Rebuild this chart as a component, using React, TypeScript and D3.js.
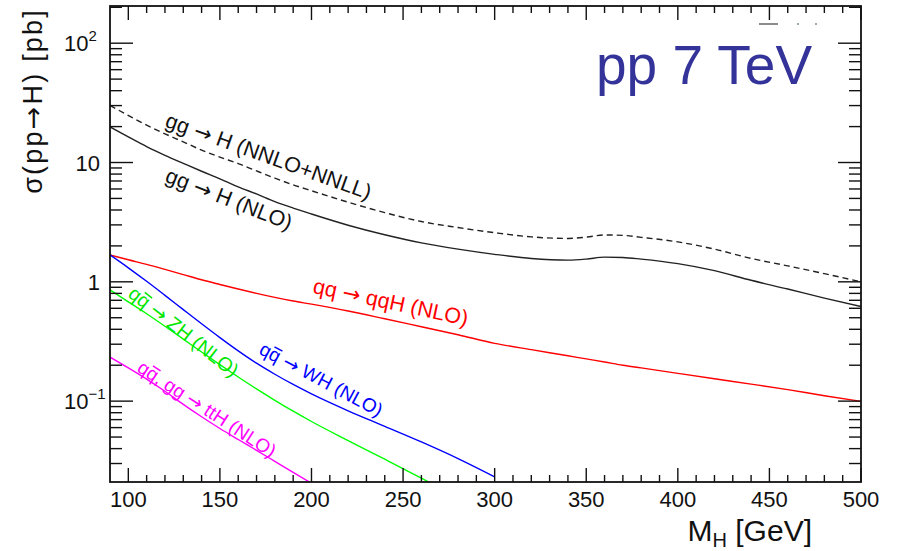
import React, { useEffect, useRef } from "react";
import * as d3 from "d3";

// Higgs mass points (GeV) and cross sections (pb)
const massFull = [90, 100, 110, 120, 130, 140, 150, 160, 170, 180, 190, 200, 220, 240, 260, 280, 300, 320, 340, 350, 360, 370, 380, 400, 420, 440, 460, 480, 500];
const ggNNLO = [30.1, 24.8, 20.6, 17.4, 14.9, 12.7, 11.1, 9.8, 8.5, 7.4, 6.5, 5.8, 4.65, 3.8, 3.2, 2.85, 2.58, 2.38, 2.31, 2.37, 2.47, 2.45, 2.36, 2.16, 1.88, 1.57, 1.36, 1.17, 1.0];
const ggNLO = [19.85, 16.4, 13.6, 11.5, 9.85, 8.45, 7.3, 6.25, 5.45, 4.7, 4.15, 3.7, 2.98, 2.48, 2.12, 1.88, 1.7, 1.57, 1.52, 1.55, 1.61, 1.6, 1.55, 1.42, 1.24, 1.03, 0.87, 0.73, 0.62];
const vbf = [1.68, 1.53, 1.4, 1.27, 1.15, 1.04, 0.95, 0.87, 0.8, 0.74, 0.69, 0.65, 0.57, 0.49, 0.42, 0.36, 0.305, 0.27, 0.24, 0.226, 0.213, 0.2, 0.19, 0.171, 0.154, 0.139, 0.125, 0.111, 0.0996];

const massWH = [90, 100, 110, 120, 130, 140, 150, 160, 170, 180, 190, 200, 220, 240, 260, 280, 300];
const wh = [1.68, 1.31, 1.01, 0.77, 0.585, 0.445, 0.341, 0.264, 0.208, 0.168, 0.138, 0.115, 0.083, 0.0615, 0.0455, 0.033, 0.0232];

const massZH = [90, 100, 110, 120, 130, 140, 150, 160, 170, 180, 190, 200, 220, 240, 260, 270];
const zh = [0.856, 0.68, 0.54, 0.424, 0.331, 0.258, 0.202, 0.1594, 0.1266, 0.1015, 0.0823, 0.0675, 0.0467, 0.0326, 0.0226, 0.0187];

const massTTH = [90, 100, 110, 120, 130, 140, 150, 160, 170, 180, 190, 200];
const tth = [0.234, 0.19, 0.153, 0.121, 0.094, 0.074, 0.059, 0.0477, 0.0387, 0.0313, 0.0253, 0.0205];

const xTickLabels = [100, 150, 200, 250, 300, 350, 400, 450, 500];
const yMajor = [0.1, 1, 10, 100];

const FONT = "'Liberation Sans', Arial, Helvetica, sans-serif";
const ARROW_FONT = "'DejaVu Sans', sans-serif";

const App = () => {
  const svgRef = useRef<SVGSVGElement | null>(null);
  const w = 903;
  const h = 551;
  const m = { top: 6, right: 42, bottom: 69, left: 110 };

  useEffect(() => {
    d3.select(svgRef.current).selectAll("*").remove();
    const svg = d3.select(svgRef.current)
      .attr("width", w)
      .attr("height", h)
      .style("background", "white");

    const x = d3.scaleLinear().domain([90, 500]).range([m.left, w - m.right]);
    const y = d3.scaleLog().domain([0.021, 205]).range([h - m.bottom, m.top]);
    const x0 = m.left, x1 = w - m.right, y0 = h - m.bottom, y1 = m.top;

    svg.append("defs").append("clipPath").attr("id", "frameclip")
      .append("rect").attr("x", x0).attr("y", y1).attr("width", x1 - x0).attr("height", y0 - y1);

    // curves
    const line = d3.line<[number, number]>()
      .x((d) => x(d[0]))
      .y((d) => y(d[1]))
      .curve(d3.curveMonotoneX);
    const curves = [
      { mass: massFull, vals: ggNNLO, color: "#222", dash: "6,4" },
      { mass: massFull, vals: ggNLO, color: "#222", dash: null },
      { mass: massFull, vals: vbf, color: "#ff0000", dash: null },
      { mass: massWH, vals: wh, color: "#0000ff", dash: null },
      { mass: massZH, vals: zh, color: "#00ff00", dash: null },
      { mass: massTTH, vals: tth, color: "#ff00ff", dash: null },
    ];
    const cg = svg.append("g").attr("clip-path", "url(#frameclip)");
    curves.forEach((c) => {
      const pts = c.mass.map((mm, i) => [mm, c.vals[i]] as [number, number]);
      const p = cg.append("path")
        .attr("d", line(pts))
        .attr("fill", "none")
        .attr("stroke", c.color)
        .attr("stroke-width", 1.4);
      if (c.dash) p.attr("stroke-dasharray", c.dash);
    });

    // frame
    svg.append("rect")
      .attr("x", x0).attr("y", y1).attr("width", x1 - x0).attr("height", y0 - y1)
      .attr("fill", "none").attr("stroke", "#111").attr("stroke-width", 1.8);

    // x ticks (bottom and top)
    const tg = svg.append("g").attr("stroke", "#111").attr("stroke-width", 1.4);
    d3.range(100, 501, 10).forEach((v) => {
      const len = v % 50 === 0 ? 14 : 7;
      tg.append("line").attr("x1", x(v)).attr("x2", x(v)).attr("y1", y0).attr("y2", y0 - len);
      tg.append("line").attr("x1", x(v)).attr("x2", x(v)).attr("y1", y1).attr("y2", y1 + len);
    });
    // y ticks (left and right)
    const yMinor: number[] = [];
    [0.01, 0.1, 1, 10, 100].forEach((dec) => {
      d3.range(2, 10).forEach((k) => {
        const v = k * dec;
        if (v > 0.021 && v < 205) yMinor.push(v);
      });
    });
    yMajor.forEach((v) => {
      tg.append("line").attr("x1", x0).attr("x2", x0 + 23).attr("y1", y(v)).attr("y2", y(v));
      tg.append("line").attr("x1", x1).attr("x2", x1 - 23).attr("y1", y(v)).attr("y2", y(v));
    });
    yMinor.forEach((v) => {
      tg.append("line").attr("x1", x0).attr("x2", x0 + 12).attr("y1", y(v)).attr("y2", y(v));
      tg.append("line").attr("x1", x1).attr("x2", x1 - 12).attr("y1", y(v)).attr("y2", y(v));
    });

    // x tick labels
    svg.append("g").selectAll("text").data(xTickLabels).enter().append("text")
      .attr("x", (d) => x(d))
      .attr("y", 507)
      .attr("text-anchor", "middle")
      .style("font-family", FONT)
      .style("font-size", "22px")
      .attr("fill", "#111")
      .text((d) => d);

    // y tick labels
    const yl = svg.append("g").style("font-family", FONT).style("font-size", "22px").attr("fill", "#111");
    const ylab = [
      { v: 100, base: "10", sup: "2" },
      { v: 10, base: "10", sup: "" },
      { v: 1, base: "1", sup: "" },
      { v: 0.1, base: "10", sup: "\u22121" },
    ];
    ylab.forEach((l) => {
      const t = yl.append("text")
        .attr("y", y(l.v) + 8)
        .text(l.base);
      if (l.sup) {
        t.attr("x", 64).attr("text-anchor", "start");
        t.append("tspan").attr("dy", -10).style("font-size", "15px").text(l.sup);
      } else {
        t.attr("x", 100).attr("text-anchor", "end");
      }
    });

    // axis titles
    const yt = svg.append("text")
      .attr("transform", `translate(42, 8) rotate(-90)`)
      .attr("text-anchor", "end")
      .style("font-family", FONT)
      .style("font-size", "27px")
      .style("letter-spacing", "2.2px")
      .attr("fill", "#111");
    yt.append("tspan").text("\u03c3(pp");
    yt.append("tspan").style("font-family", ARROW_FONT).text("\u2192");
    yt.append("tspan").text("H) [pb]");

    const xt = svg.append("text")
      .attr("x", 812)
      .attr("y", 541)
      .attr("text-anchor", "end")
      .style("font-family", FONT)
      .style("font-size", "30px")
      .attr("fill", "#111");
    xt.append("tspan").text("M");
    xt.append("tspan").attr("dy", 6).style("font-size", "20px").text("H");
    xt.append("tspan").attr("dy", -6).text(" [GeV]");

    // energy label
    svg.append("text")
      .attr("x", 596)
      .attr("y", 84)
      .style("font-family", FONT)
      .style("font-size", "55px")
      .attr("fill", "#333399")
      .text("pp 7 TeV");

    // leftover mark near top right
    svg.append("line").attr("x1", 759).attr("x2", 778).attr("y1", 24).attr("y2", 24)
      .attr("stroke", "#666").attr("stroke-width", 1.5);
    [797, 815].forEach((px) => {
      svg.append("rect").attr("x", px).attr("y", 23).attr("width", 2).attr("height", 2).attr("fill", "#9aa");
    });

    // curve labels
    const labels = [
      { m: 119.5, v: 20.1, a: 19.8, fs: 21.5, color: "#111", left: "gg ", right: " H (NNLO+NNLL)", bar: false },
      { m: 119.5, v: 6.97, a: 21.5, fs: 21.5, color: "#111", left: "gg ", right: " H (NLO)", bar: false },
      { m: 200.3, v: 0.808, a: 12, fs: 21.5, color: "#ff0000", left: "qq ", right: " qqH (NLO)", bar: false },
      { m: 99.3, v: 0.762, a: 38, fs: 19.5, color: "#00e600", left: "qq ", right: " ZH (NLO)", bar: true },
      { m: 170.8, v: 0.252, a: 28, fs: 19, color: "#0000ff", left: "qq ", right: " WH (NLO)", bar: true },
      { m: 104.2, v: 0.18, a: 33, fs: 19, color: "#ff00ff", left: "qq, gg ", right: " ttH (NLO)", bar: true },
    ];
    labels.forEach((l) => {
      const g = svg.append("g")
        .attr("transform", `translate(${x(l.m)}, ${y(l.v)}) rotate(${l.a})`);
      const t = g.append("text")
        .attr("x", 0).attr("y", 0)
        .style("font-family", FONT)
        .style("font-size", `${l.fs}px`)
        .attr("fill", l.color);
      t.append("tspan").text(l.left);
      t.append("tspan").style("font-family", ARROW_FONT).text("\u2192");
      t.append("tspan").text(l.right);
      if (l.bar) {
        const qw = 0.556 * l.fs;
        g.append("line")
          .attr("x1", qw + 1).attr("x2", 2 * qw - 0.5)
          .attr("y1", -0.7 * l.fs).attr("y2", -0.7 * l.fs)
          .attr("stroke", l.color).attr("stroke-width", 1.5);
      }
    });
  }, []);

  return (
    <svg ref={svgRef} style={{ position: "absolute", left: 0, top: 0 }}></svg>
  );
};

export default App;
